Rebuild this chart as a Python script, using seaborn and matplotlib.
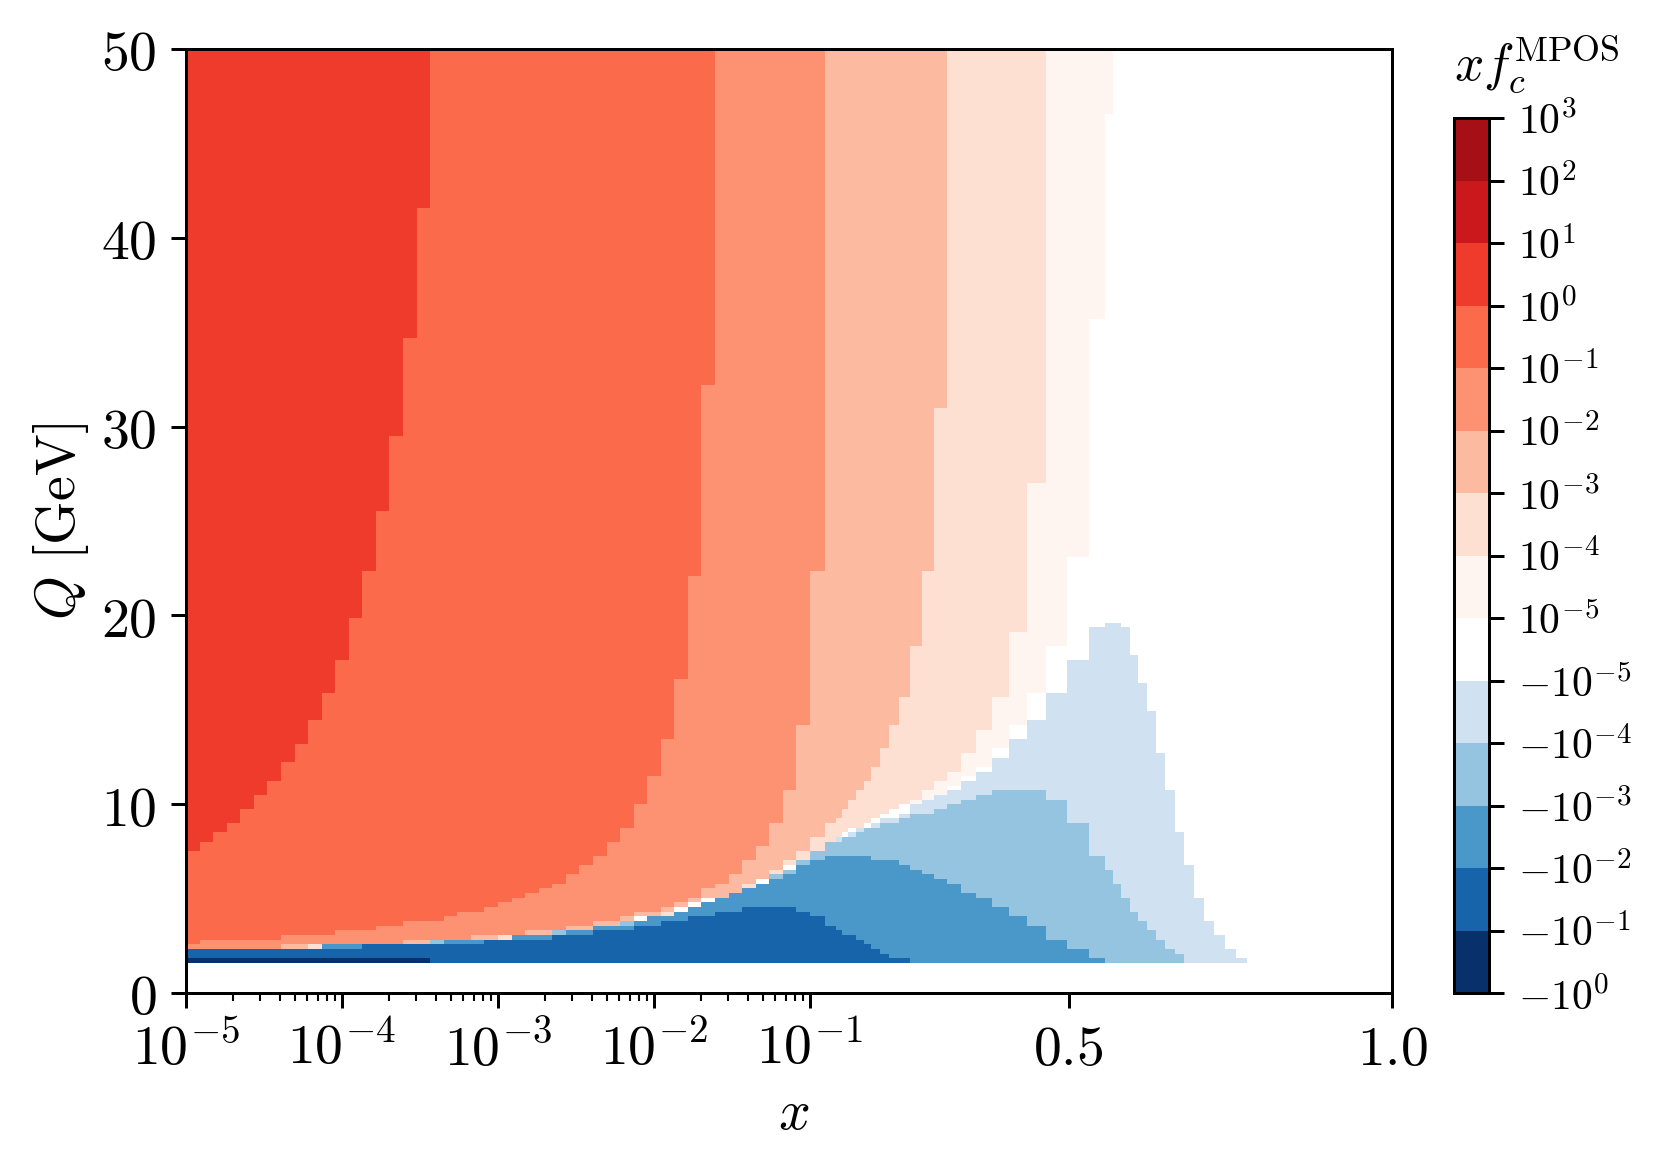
import numpy as np
import pandas as pd
import matplotlib
matplotlib.use("Agg")
import matplotlib.pyplot as plt
from matplotlib.colors import ListedColormap
import seaborn as sns

# ---------- grid ----------
x_edges_log = np.logspace(-5, -1, 47)
x_edges_lin = [0.1228, 0.1398, 0.1495, 0.1588, 0.1712, 0.1831, 0.1949, 0.2084, 0.2228, 0.2382,
               0.2548, 0.2729, 0.2920, 0.3121, 0.3330, 0.3570, 0.3810, 0.4070, 0.4354, 0.4653,
               0.4974, 0.5319, 0.5556, 0.5686, 0.5810, 0.5943, 0.6077, 0.6212, 0.6351, 0.6495,
               0.6643, 0.6789, 0.6939, 0.7094, 0.7254, 0.7419, 0.7590, 0.7760, 1.0]
q_edges = np.linspace(1.59, 50, 197)

# ---------- bands, bottom to top of the colour bar ----------
band_colors = ["#08306b", "#1764ab", "#4a98c9", "#94c4df", "#d0e1f2", "#ffffff", "#fff5f0",
               "#fee0d2", "#fcbba1", "#fc9272", "#fb6a4a", "#ef3b2c", "#cb181d", "#a50f15"]
band_tick_labels = [r"$-10^{0}$", r"$-10^{-1}$", r"$-10^{-2}$", r"$-10^{-3}$", r"$-10^{-4}$",
                    r"$-10^{-5}$", r"$10^{-5}$", r"$10^{-4}$", r"$10^{-3}$", r"$10^{-2}$",
                    r"$10^{-1}$", r"$10^{0}$", r"$10^{1}$", r"$10^{2}$", r"$10^{3}$"]

# positive bands: (columns from the left, lowest Q of the band's outer edge)
above_1e_5 = [(70, 46.47), (69, 35.59), (68, 23.04), (67, 18.34), (66, 15.87), (65, 14.16),
              (64, 12.92), (63, 11.93), (62, 11.44), (61, 10.95), (60, 10.45), (59, 10.22),
              (58, 9.96)]
above_1e_4 = [(66, 26.98), (65, 19.08), (64, 15.64), (63, 13.91), (62, 12.67), (61, 11.69),
              (60, 11.19), (59, 10.70), (58, 10.22), (57, 9.96), (56, 9.69), (55, 9.46),
              (54, 9.20), (53, 8.95), (52, 8.72), (50, 8.47), (49, 8.23), (48, 7.98), (47, 7.48),
              (46, 6.99), (45, 6.74), (44, 6.23), (42, 5.52), (36, 4.04), (24, 2.81), (10, 2.31)]
above_1e_3 = [(60, 30.92), (59, 22.30), (58, 18.34), (57, 15.64), (56, 14.16), (55, 12.92),
              (54, 11.93), (53, 11.19), (52, 10.70), (51, 10.22), (50, 9.71), (49, 9.22),
              (48, 8.99), (47, 8.23), (46, 7.48), (45, 6.99), (44, 6.51), (43, 6.02), (42, 5.77),
              (41, 5.28), (40, 5.03), (38, 4.78), (37, 4.54), (36, 4.29), (35, 4.04), (33, 3.80),
              (32, 3.55), (30, 3.30), (27, 3.06), (23, 2.81), (18, 2.56), (9, 2.31)]
above_1e_2 = [(47, 22.30), (46, 14.14), (45, 10.70), (44, 8.99), (43, 7.75), (42, 7.01), (41, 6.25),
              (40, 5.77), (39, 5.52), (38, 5.03), (37, 4.78), (36, 4.54), (35, 4.29), (33, 4.04),
              (32, 3.80), (30, 3.55), (28, 3.30), (25, 3.06), (21, 2.81), (16, 2.56), (7, 2.31)]
above_1e_1 = [(39, 32.15), (38, 22.05), (37, 16.62), (36, 13.40), (35, 11.44), (34, 9.96), (33, 8.72),
              (32, 7.98), (31, 7.26), (30, 6.76), (29, 6.27), (28, 5.77), (27, 5.52), (26, 5.28),
              (25, 5.03), (24, 4.78), (23, 4.54), (22, 4.29), (20, 4.04), (19, 3.80), (16, 3.55),
              (14, 3.30), (11, 3.06), (7, 2.81), (1, 2.56)]
above_1e0 = [(18, 41.51), (17, 34.60), (16, 29.45), (15, 25.49), (14, 22.30), (13, 19.83), (12, 17.60),
             (11, 15.87), (10, 14.39), (9, 13.15), (8, 12.17), (7, 11.19), (6, 10.45), (5, 9.71),
             (4, 8.97), (3, 8.47), (2, 7.98), (1, 7.48)]

# negative bands: (first column, last column, top Q)
below_m1e_5 = [(43, 43, 6.27), (44, 44, 6.51), (45, 45, 7.01), (46, 46, 7.48), (47, 47, 7.98),
               (48, 49, 8.23), (50, 50, 8.47), (51, 52, 8.72), (53, 53, 8.97), (54, 55, 9.21),
               (56, 56, 9.46), (57, 57, 9.96), (58, 58, 10.21), (59, 59, 10.45), (60, 60, 10.70),
               (61, 61, 11.19), (62, 62, 11.69), (63, 63, 12.43), (64, 64, 13.42), (65, 65, 14.39),
               (66, 66, 15.87), (67, 67, 17.60), (68, 68, 19.33), (69, 70, 19.58), (71, 71, 19.33),
               (72, 72, 17.85), (73, 73, 16.37), (74, 74, 14.88), (75, 75, 12.67), (76, 76, 10.70),
               (77, 77, 8.47), (78, 78, 6.76), (79, 79, 5.03), (80, 80, 3.80), (81, 81, 3.06),
               (82, 82, 2.31), (83, 83, 1.82)]
below_m1e_4 = [(18, 18, 2.81), (27, 27, 3.30), (32, 32, 3.80), (43, 43, 6.27), (44, 44, 6.51),
               (45, 45, 7.01), (46, 46, 7.48), (47, 48, 7.98), (49, 50, 8.23), (51, 51, 8.47),
               (52, 53, 8.72), (54, 55, 8.97), (56, 56, 9.21), (57, 58, 9.46), (59, 59, 9.71),
               (60, 60, 9.96), (61, 61, 10.21), (62, 62, 10.45), (63, 65, 10.70), (66, 66, 10.21),
               (67, 67, 8.97), (68, 68, 7.24), (69, 69, 6.50), (70, 70, 5.76), (71, 71, 5.02),
               (72, 72, 4.27), (73, 73, 3.78), (74, 74, 3.28), (75, 75, 2.79), (76, 76, 2.31),
               (77, 77, 2.07)]
below_m1e_3 = [(10, 12, 2.56), (19, 21, 2.81), (24, 26, 3.06), (28, 29, 3.30), (30, 32, 3.55),
               (33, 33, 3.80), (34, 35, 4.04), (36, 36, 4.29), (37, 37, 4.54), (38, 38, 4.78),
               (39, 39, 5.03), (40, 40, 5.28), (41, 41, 5.52), (42, 42, 5.77), (43, 43, 6.02),
               (44, 44, 6.27), (45, 45, 6.76), (46, 46, 7.01), (47, 52, 7.26), (53, 55, 7.01),
               (56, 56, 6.76), (57, 57, 6.51), (58, 58, 6.27), (59, 59, 6.02), (60, 60, 5.77),
               (61, 61, 5.28), (62, 62, 5.03), (63, 63, 4.54), (64, 64, 4.04), (65, 65, 3.55),
               (66, 66, 2.81), (67, 67, 2.31), (68, 68, 1.82)]
below_m1e_2 = [(0, 12, 2.31), (13, 21, 2.56), (22, 26, 2.81), (27, 29, 3.06), (30, 32, 3.30),
               (33, 34, 3.55), (35, 36, 3.80), (37, 38, 4.04), (39, 40, 4.29), (41, 44, 4.54),
               (45, 45, 4.29), (46, 46, 4.04), (47, 47, 3.55), (48, 48, 3.30), (49, 50, 3.06),
               (51, 51, 2.81), (52, 52, 2.56), (53, 53, 2.31), (54, 54, 2.07), (55, 56, 1.82)]
below_m1e_1 = [(0, 17, 1.82)]

positive_bands = [(7, above_1e_5), (8, above_1e_4), (9, above_1e_3),
                  (10, above_1e_2), (11, above_1e_1), (12, above_1e0)]
negative_bands = [(5, below_m1e_5), (4, below_m1e_4), (3, below_m1e_3),
                  (2, below_m1e_2), (1, below_m1e_1)]

# ---------- build the cell table ----------
x_edges = np.concatenate([x_edges_log, x_edges_lin])
x_mid = 0.5 * (x_edges[:-1] + x_edges[1:])
q_mid = 0.5 * (q_edges[:-1] + q_edges[1:])
band = np.full((x_mid.size, q_mid.size), 6.0)
cols = np.arange(x_mid.size)
for level, steps in positive_bands:
    for n, qmin in steps:
        band[np.ix_(cols < n, q_mid >= qmin)] = level
for level, runs in negative_bands:
    for first, last, qtop in runs:
        band[np.ix_((cols >= first) & (cols <= last), q_mid < qtop)] = level
xx, qq = np.meshgrid(x_mid, q_mid, indexing="ij")
cells = pd.DataFrame({"x": xx.ravel(), "Q": qq.ravel(), "band": band.ravel()})

# ---------- style ----------
sns.set_theme(style="ticks", rc={
    "font.family": "serif", "mathtext.fontset": "cm",
    "axes.edgecolor": "black", "axes.linewidth": 0.72,
    "xtick.color": "black", "ytick.color": "black",
    "xtick.major.width": 0.72, "ytick.major.width": 0.72,
    "xtick.major.size": 3.5, "ytick.major.size": 3.5,
    "xtick.minor.width": 0.5, "xtick.minor.size": 2.0,
    "xtick.direction": "out", "ytick.direction": "out",
    "axes.labelcolor": "black", "text.color": "black",
})

W, H = 1660, 1168
fig = plt.figure(figsize=(W / 300, H / 300), dpi=300)
ax = fig.add_axes([186 / W, 1 - 993 / H, (1392 - 186) / W, (993 - 49) / H])
cax = fig.add_axes([1454 / W, 1 - 993 / H, (1489 - 1454) / W, (993 - 118) / H])


def fwd(x):
    x = np.maximum(np.asarray(x, dtype=float), 1e-12)
    return np.where(x <= 0.1, (np.log10(x) + 5) * 156.0, 624.0 + (x - 0.1) * 646.7)


def inv(t):
    t = np.asarray(t, dtype=float)
    return np.where(t <= 624.0, 10 ** (t / 156.0 - 5), 0.1 + (t - 624.0) / 646.7)


ax.set_xscale("function", functions=(fwd, inv))
cmap = ListedColormap(band_colors)
# seaborn bins in the axis' transformed coordinate on a scaled axis
sns.histplot(data=cells, x="x", y="Q", weights="band", bins=(fwd(x_edges), q_edges),
             cmap=cmap, cbar=False, thresh=None, ax=ax, antialiased=True)
mesh = ax.collections[0]
mesh.set_cmap(cmap)
mesh.set_clim(0.5, 14.5)

ax.set_xlim(1e-5, 1.0)
ax.set_ylim(0, 50)
ax.set_xticks([1e-5, 1e-4, 1e-3, 1e-2, 1e-1, 0.5, 1.0])
ax.set_xticklabels([r"$10^{-5}$", r"$10^{-4}$", r"$10^{-3}$", r"$10^{-2}$", r"$10^{-1}$",
                    r"$0.5$", r"$1.0$"], fontsize=13.4)
ax.set_xticks([m * 10.0 ** e for e in range(-5, -1) for m in range(2, 10)], minor=True)
ax.set_yticks([0, 10, 20, 30, 40, 50])
ax.set_yticklabels([r"$0$", r"$10$", r"$20$", r"$30$", r"$40$", r"$50$"], fontsize=13.4)
ax.tick_params(axis="both", which="major", pad=3.5)
ax.set_xlabel(r"$x$", fontsize=13.4, labelpad=2.0)
ax.xaxis.label.set_x(0.5035)
ax.set_ylabel(r"$Q\ [\mathrm{GeV}]$", fontsize=13.4, labelpad=2.5)
for s in ax.spines.values():
    s.set_visible(True)
    s.set_linewidth(0.72)

cbar = fig.colorbar(mesh, cax=cax, ticks=np.arange(0.5, 15.0, 1.0))
cbar.set_ticklabels(band_tick_labels)
cbar.ax.tick_params(labelsize=10, length=3.5, width=0.72, pad=3.5)
cbar.outline.set_linewidth(0.72)
cbar.outline.set_edgecolor("black")
cbar.ax.set_title(r"$xf_c^{\mathrm{MPOS}}$", fontsize=12.3, pad=9, loc="left")

fig.savefig("out.png", dpi=300)
